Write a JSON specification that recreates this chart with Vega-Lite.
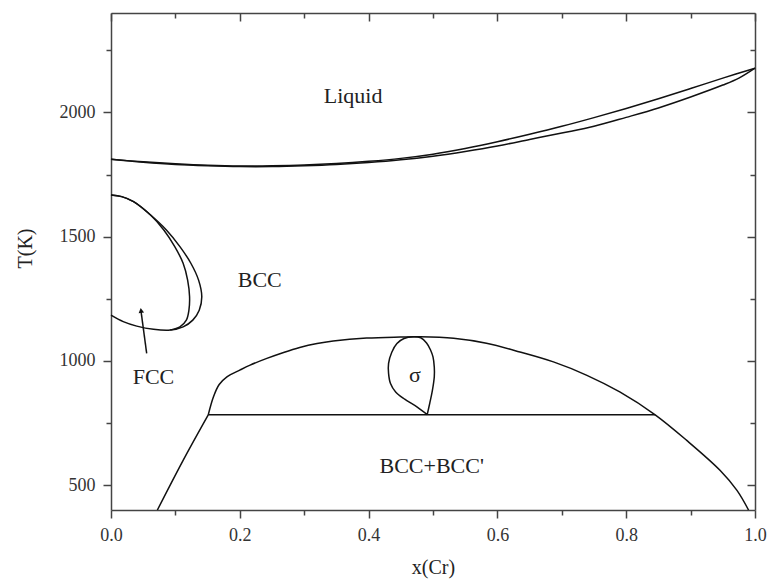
{
  "$schema": "https://vega.github.io/schema/vega-lite/v6.json",
  "width": 644,
  "height": 497,
  "autosize": {"type": "none"},
  "padding": {"left": 111, "top": 13, "right": 14, "bottom": 70},
  "background": "white",
  "config": {
    "view": {"stroke": null},
    "font": "Liberation Serif",
    "axis": {
      "domainColor": "#444",
      "domainWidth": 1.5,
      "tickColor": "#444",
      "tickWidth": 1.5,
      "grid": false,
      "labelFont": "Liberation Serif",
      "labelFontSize": 18,
      "labelColor": "#333",
      "titleFont": "Liberation Serif",
      "titleFontSize": 20,
      "titleFontWeight": "normal",
      "titleColor": "#222"
    }
  },
  "resolve": {"axis": {"x": "independent", "y": "independent"}},
  "layer": [
    {
      "data": {
        "values": [
          {"c": "liq", "i": 0, "x": 0.0, "T": 1811},
          {"c": "liq", "i": 1, "x": 0.05, "T": 1801},
          {"c": "liq", "i": 2, "x": 0.1, "T": 1793},
          {"c": "liq", "i": 3, "x": 0.15, "T": 1787},
          {"c": "liq", "i": 4, "x": 0.2, "T": 1784},
          {"c": "liq", "i": 5, "x": 0.25, "T": 1785},
          {"c": "liq", "i": 6, "x": 0.3, "T": 1788},
          {"c": "liq", "i": 7, "x": 0.35, "T": 1794},
          {"c": "liq", "i": 8, "x": 0.4, "T": 1803},
          {"c": "liq", "i": 9, "x": 0.45, "T": 1815},
          {"c": "liq", "i": 10, "x": 0.5, "T": 1832},
          {"c": "liq", "i": 11, "x": 0.55, "T": 1855},
          {"c": "liq", "i": 12, "x": 0.6, "T": 1882},
          {"c": "liq", "i": 13, "x": 0.65, "T": 1912},
          {"c": "liq", "i": 14, "x": 0.7, "T": 1944},
          {"c": "liq", "i": 15, "x": 0.75, "T": 1979},
          {"c": "liq", "i": 16, "x": 0.8, "T": 2016},
          {"c": "liq", "i": 17, "x": 0.85, "T": 2055},
          {"c": "liq", "i": 18, "x": 0.9, "T": 2096},
          {"c": "liq", "i": 19, "x": 0.95, "T": 2138},
          {"c": "liq", "i": 20, "x": 1.0, "T": 2178},
          {"c": "sol", "i": 0, "x": 0.0, "T": 1811},
          {"c": "sol", "i": 1, "x": 0.05, "T": 1799},
          {"c": "sol", "i": 2, "x": 0.1, "T": 1790},
          {"c": "sol", "i": 3, "x": 0.15, "T": 1785},
          {"c": "sol", "i": 4, "x": 0.2, "T": 1782},
          {"c": "sol", "i": 5, "x": 0.25, "T": 1782},
          {"c": "sol", "i": 6, "x": 0.3, "T": 1785},
          {"c": "sol", "i": 7, "x": 0.35, "T": 1790},
          {"c": "sol", "i": 8, "x": 0.4, "T": 1798},
          {"c": "sol", "i": 9, "x": 0.45, "T": 1809},
          {"c": "sol", "i": 10, "x": 0.5, "T": 1824},
          {"c": "sol", "i": 11, "x": 0.55, "T": 1843},
          {"c": "sol", "i": 12, "x": 0.6, "T": 1865},
          {"c": "sol", "i": 13, "x": 0.65, "T": 1891},
          {"c": "sol", "i": 14, "x": 0.7, "T": 1917},
          {"c": "sol", "i": 15, "x": 0.75, "T": 1944},
          {"c": "sol", "i": 16, "x": 0.8, "T": 1980},
          {"c": "sol", "i": 17, "x": 0.85, "T": 2018},
          {"c": "sol", "i": 18, "x": 0.9, "T": 2062},
          {"c": "sol", "i": 19, "x": 0.95, "T": 2110},
          {"c": "sol", "i": 20, "x": 0.975, "T": 2138},
          {"c": "sol", "i": 21, "x": 1.0, "T": 2178},
          {"c": "go", "i": 0, "x": 0.0, "T": 1668},
          {"c": "go", "i": 1, "x": 0.0166, "T": 1661},
          {"c": "go", "i": 2, "x": 0.035, "T": 1641},
          {"c": "go", "i": 3, "x": 0.061, "T": 1588},
          {"c": "go", "i": 4, "x": 0.086, "T": 1527},
          {"c": "go", "i": 5, "x": 0.107, "T": 1460},
          {"c": "go", "i": 6, "x": 0.124, "T": 1393},
          {"c": "go", "i": 7, "x": 0.136, "T": 1325},
          {"c": "go", "i": 8, "x": 0.141, "T": 1258},
          {"c": "go", "i": 9, "x": 0.137, "T": 1204},
          {"c": "go", "i": 10, "x": 0.127, "T": 1164},
          {"c": "go", "i": 11, "x": 0.112, "T": 1137},
          {"c": "go", "i": 12, "x": 0.092, "T": 1124},
          {"c": "go", "i": 13, "x": 0.066, "T": 1127},
          {"c": "go", "i": 14, "x": 0.04, "T": 1140},
          {"c": "go", "i": 15, "x": 0.019, "T": 1158},
          {"c": "go", "i": 16, "x": 0.0, "T": 1184},
          {"c": "gi", "i": 0, "x": 0.0, "T": 1668},
          {"c": "gi", "i": 1, "x": 0.0166, "T": 1661},
          {"c": "gi", "i": 2, "x": 0.035, "T": 1641},
          {"c": "gi", "i": 3, "x": 0.061, "T": 1588},
          {"c": "gi", "i": 4, "x": 0.082, "T": 1527},
          {"c": "gi", "i": 5, "x": 0.099, "T": 1460},
          {"c": "gi", "i": 6, "x": 0.112, "T": 1393},
          {"c": "gi", "i": 7, "x": 0.119, "T": 1325},
          {"c": "gi", "i": 8, "x": 0.122, "T": 1258},
          {"c": "gi", "i": 9, "x": 0.121, "T": 1204},
          {"c": "gi", "i": 10, "x": 0.117, "T": 1164},
          {"c": "gi", "i": 11, "x": 0.107, "T": 1137},
          {"c": "gi", "i": 12, "x": 0.092, "T": 1124},
          {"c": "domeA", "i": 0, "x": 0.072, "T": 400},
          {"c": "domeA", "i": 1, "x": 0.112, "T": 600},
          {"c": "domeA", "i": 2, "x": 0.151, "T": 783},
          {"c": "domeB", "i": 0, "x": 0.151, "T": 783},
          {"c": "domeB", "i": 1, "x": 0.159, "T": 855},
          {"c": "domeB", "i": 2, "x": 0.168, "T": 905},
          {"c": "domeB", "i": 3, "x": 0.18, "T": 936},
          {"c": "domeB", "i": 4, "x": 0.2, "T": 963},
          {"c": "domeB", "i": 5, "x": 0.216, "T": 983},
          {"c": "domeB", "i": 6, "x": 0.242, "T": 1010},
          {"c": "domeB", "i": 7, "x": 0.268, "T": 1034},
          {"c": "domeB", "i": 8, "x": 0.293, "T": 1054},
          {"c": "domeB", "i": 9, "x": 0.32, "T": 1070},
          {"c": "domeB", "i": 10, "x": 0.345, "T": 1080},
          {"c": "domeB", "i": 11, "x": 0.397, "T": 1092},
          {"c": "domeB", "i": 12, "x": 0.449, "T": 1096},
          {"c": "domeB", "i": 13, "x": 0.48, "T": 1097},
          {"c": "domeB", "i": 14, "x": 0.532, "T": 1091},
          {"c": "domeB", "i": 15, "x": 0.583, "T": 1071},
          {"c": "domeB", "i": 16, "x": 0.635, "T": 1036},
          {"c": "domeB", "i": 17, "x": 0.687, "T": 996},
          {"c": "domeB", "i": 18, "x": 0.739, "T": 942},
          {"c": "domeB", "i": 19, "x": 0.79, "T": 875},
          {"c": "domeB", "i": 20, "x": 0.845, "T": 783},
          {"c": "domeB", "i": 21, "x": 0.894, "T": 680},
          {"c": "domeB", "i": 22, "x": 0.946, "T": 559},
          {"c": "domeB", "i": 23, "x": 0.972, "T": 479},
          {"c": "domeB", "i": 24, "x": 0.99, "T": 400},
          {"c": "hl", "i": 0, "x": 0.151, "T": 783},
          {"c": "hl", "i": 1, "x": 0.845, "T": 783},
          {"c": "sig", "i": 0, "x": 0.491, "T": 784},
          {"c": "sig", "i": 1, "x": 0.475, "T": 815},
          {"c": "sig", "i": 2, "x": 0.456, "T": 846},
          {"c": "sig", "i": 3, "x": 0.442, "T": 875},
          {"c": "sig", "i": 4, "x": 0.434, "T": 909},
          {"c": "sig", "i": 5, "x": 0.431, "T": 950},
          {"c": "sig", "i": 6, "x": 0.431, "T": 990},
          {"c": "sig", "i": 7, "x": 0.436, "T": 1035},
          {"c": "sig", "i": 8, "x": 0.444, "T": 1070},
          {"c": "sig", "i": 9, "x": 0.455, "T": 1090},
          {"c": "sig", "i": 10, "x": 0.469, "T": 1097},
          {"c": "sig", "i": 11, "x": 0.481, "T": 1093},
          {"c": "sig", "i": 12, "x": 0.49, "T": 1072},
          {"c": "sig", "i": 13, "x": 0.496, "T": 1045},
          {"c": "sig", "i": 14, "x": 0.5, "T": 1016},
          {"c": "sig", "i": 15, "x": 0.502, "T": 975},
          {"c": "sig", "i": 16, "x": 0.502, "T": 936},
          {"c": "sig", "i": 17, "x": 0.499, "T": 880},
          {"c": "sig", "i": 18, "x": 0.495, "T": 830},
          {"c": "sig", "i": 19, "x": 0.491, "T": 784},
          {"c": "arr", "i": 0, "x": 0.0554, "T": 1030},
          {"c": "arr", "i": 1, "x": 0.0466, "T": 1200}
        ]
      },
      "mark": {"type": "line", "color": "#111", "strokeWidth": 1.5, "interpolate": "catmull-rom"},
      "encoding": {
        "x": {
          "field": "x", "type": "quantitative",
          "scale": {"domain": [0, 1], "nice": false, "zero": false},
          "axis": {
            "orient": "bottom",
            "title": "x(Cr)",
            "values": [0, 0.1, 0.2, 0.3, 0.4, 0.5, 0.6, 0.7, 0.8, 0.9, 1.0],
            "labelExpr": "round(datum.value*10)%2==0 ? format(datum.value,'.1f') : ''",
            "tickSize": {"condition": {"test": "round(datum.value*10)%2==0", "value": 8}, "value": 5},
            "labelPadding": 8,
            "labelFlush": false,
            "titleY": 57,
            "titleBaseline": "middle"
          }
        },
        "y": {
          "field": "T", "type": "quantitative",
          "scale": {"domain": [400, 2400], "nice": false, "zero": false},
          "axis": {
            "orient": "left",
            "title": "T(K)",
            "values": [500, 750, 1000, 1250, 1500, 1750, 2000, 2250],
            "labelExpr": "datum.value % 500 == 0 ? datum.value : ''",
            "tickSize": {"condition": {"test": "datum.value % 500 == 0", "value": 8}, "value": 5},
            "labelPadding": 8,
            "labelFlush": false,
            "titleX": -86,
            "titleY": 235,
            "titleAlign": "center",
            "titleBaseline": "middle"
          }
        },
        "detail": {"field": "c"},
        "order": {"field": "i"}
      }
    },
    {
      "data": {"values": [{"x": 0.0466, "T": 1203}]},
      "mark": {"type": "point", "shape": "triangle-up", "filled": true, "color": "#111", "size": 30, "angle": -8, "opacity": 1},
      "encoding": {
        "x": {"field": "x", "type": "quantitative", "axis": null},
        "y": {"field": "T", "type": "quantitative", "axis": null}
      }
    },
    {
      "data": {
        "values": [
          {"label": "Liquid", "x": 0.376, "T": 2065},
          {"label": "BCC", "x": 0.231, "T": 1325},
          {"label": "FCC", "x": 0.066, "T": 936},
          {"label": "σ", "x": 0.472, "T": 942},
          {"label": "BCC+BCC'", "x": 0.498, "T": 579}
        ]
      },
      "mark": {"type": "text", "font": "Liberation Serif", "fontSize": 22, "color": "#222", "align": "center", "baseline": "middle"},
      "encoding": {
        "x": {
          "field": "x", "type": "quantitative",
          "scale": {"domain": [0, 1], "nice": false, "zero": false},
          "axis": {
            "orient": "top", "title": null, "labels": false,
            "values": [0, 0.1, 0.2, 0.3, 0.4, 0.5, 0.6, 0.7, 0.8, 0.9, 1.0],
            "tickSize": {"condition": {"test": "round(datum.value*10)%2==0", "value": -8}, "value": -5}
          }
        },
        "y": {
          "field": "T", "type": "quantitative",
          "scale": {"domain": [400, 2400], "nice": false, "zero": false},
          "axis": {
            "orient": "right", "title": null, "labels": false,
            "values": [500, 750, 1000, 1250, 1500, 1750, 2000, 2250],
            "tickSize": {"condition": {"test": "datum.value % 500 == 0", "value": -8}, "value": -5}
          }
        },
        "text": {"field": "label"}
      }
    }
  ]
}
